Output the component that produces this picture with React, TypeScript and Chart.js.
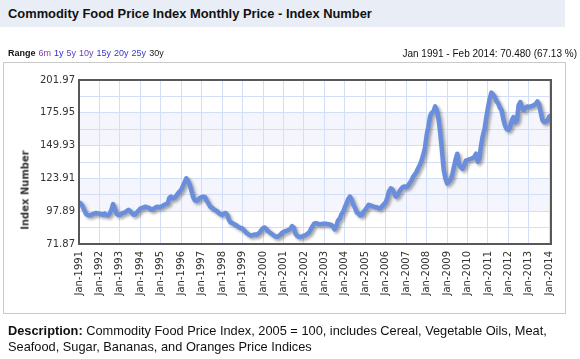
import React, { useEffect, useRef } from "react";
import { Chart, registerables } from "chart.js";

Chart.register(...registerables);

const TITLE = "Commodity Food Price Index Monthly Price - Index Number";
const RANGE_LINKS = ["6m", "1y", "5y", "10y", "15y", "20y", "25y", "30y"];
const RANGE_COLORS = ["#7a3d9c", "#2a2ad0", "#5c3cb8", "#6a3db2", "#3434cc", "#3434cc", "#3a38c8", "#222222"];
const SUMMARY = "Jan 1991 - Feb 2014: 70.480 (67.13 %)";
const Y_TITLE = "Index Number";
const DESCRIPTION_LABEL = "Description:";
const DESCRIPTION_TEXT =
  " Commodity Food Price Index, 2005 = 100, includes Cereal, Vegetable Oils, Meat, Seafood, Sugar, Bananas, and Oranges Price Indices";

const START_YEAR = 1991;
const X_TICK_YEARS = [
  1991, 1992, 1993, 1994, 1995, 1996, 1997, 1998, 1999, 2000, 2001, 2002,
  2003, 2004, 2005, 2006, 2007, 2008, 2009, 2010, 2011, 2012, 2013, 2014,
];
const Y_MAJOR = [71.87, 97.89, 123.91, 149.93, 175.95, 201.97];
const Y_GRID = [71.87, 84.88, 97.89, 110.9, 123.91, 136.92, 149.93, 162.94, 175.95, 188.96, 201.97];

// Monthly values, Jan 1991 .. Feb 2014
const FOOD_INDEX = [
  // 1991
  105, 104, 102, 99, 96, 95, 94.5, 95, 95.5, 96, 96.5, 96,
  // 1992
  96, 95.5, 95, 96, 95, 94.5, 96, 99, 103.5, 100, 96, 95,
  // 1993
  95, 96, 96.5, 97, 98, 99, 98, 96.5, 95, 95.5, 97, 98.5,
  // 1994
  100, 100.5, 101, 101.5, 101, 100.5, 99.5, 99, 100, 101, 101.5, 101,
  // 1995
  101.5, 102, 103, 103.5, 104, 108.5, 109.5, 108, 108.5, 110, 112, 113.5,
  // 1996
  115, 118, 121, 124, 122, 119, 114, 109, 106.5, 106, 107, 108.5,
  // 1997
  109, 109.5, 109, 106, 104, 101.5, 100.5, 99.5, 98.5, 98, 96.5, 95.5,
  // 1998
  95, 96, 96.5, 95, 91, 89, 88.5, 87.5, 87, 86, 85, 84.5,
  // 1999
  84, 82.5, 81, 80, 79, 78.5, 79, 79.5, 79, 80, 81, 83,
  // 2000
  84.5, 85, 83.5, 82, 81, 80, 79, 78, 77.5, 78, 79, 80.5,
  // 2001
  81.5, 82, 82.5, 83, 84, 86, 85, 80, 78.5, 77.5, 77.5, 78,
  // 2002
  78.5, 79, 80, 81, 83.5, 86, 88, 88.5, 88, 87.5, 87.5, 88,
  // 2003
  88, 88, 87.5, 87.5, 87, 86, 83.5, 86, 90.5, 92, 95.5, 97.5,
  // 2004
  101, 104, 107.5, 109.5, 107, 103, 100.5, 97, 96, 94.5, 95, 97.5,
  // 2005
  99, 101, 103, 102.5, 102, 101.5, 101, 101, 100, 100.5, 102, 103.5,
  // 2006
  105, 109, 114, 116, 115, 112, 109.5, 111, 113.5, 115.5, 117, 117.5,
  // 2007
  117, 118, 120, 122, 125, 127, 129, 132, 134.5, 138, 142.5, 148,
  // 2008
  158, 165, 173, 176, 177, 181, 178, 171, 160, 146, 131, 124,
  // 2009
  120, 121.5, 123, 126.5, 133, 139, 143.5, 135, 133, 131.5, 134, 138,
  // 2010
  138.5, 139, 139.5, 140, 141, 143.5, 137, 140, 150.5, 158, 163, 172,
  // 2011
  180, 187, 192, 190.5, 188.5, 185, 183.5, 180, 178, 171, 166, 163,
  // 2012
  162.5, 165, 170, 172.5, 168.5, 170, 182, 184.5, 180, 178, 180, 181,
  // 2013
  180.5, 181, 181.5, 182, 183, 185, 182.5, 176, 170, 168.5, 169, 170,
  // 2014
  173, 174,
];

const plotDecor = {
  id: "plotDecor",
  beforeDraw(chart: any) {
    const { ctx, chartArea: a, scales } = chart;
    const y = scales.y;
    ctx.save();
    ctx.fillStyle = "#ffffff";
    ctx.fillRect(a.left, a.top, a.width, a.height);
    ctx.fillStyle = "#f5f6fd";
    for (let i = 0; i < Y_MAJOR.length - 1; i++) {
      if (i % 2 === 1) {
        const y0 = y.getPixelForValue(Y_MAJOR[i]);
        const y1 = y.getPixelForValue(Y_MAJOR[i + 1]);
        ctx.fillRect(a.left, y1, a.width, y0 - y1);
      }
    }
    ctx.restore();
  },
  beforeDatasetDraw(chart: any) {
    const ctx = chart.ctx;
    ctx.save();
    ctx.shadowColor = "rgba(0,0,0,0.35)";
    ctx.shadowOffsetX = 2;
    ctx.shadowOffsetY = 2;
    ctx.shadowBlur = 3;
  },
  afterDatasetDraw(chart: any) {
    chart.ctx.restore();
  },
  afterDraw(chart: any) {
    const { ctx, chartArea: a } = chart;
    ctx.save();
    ctx.strokeStyle = "#585858";
    ctx.lineWidth = 2;
    ctx.strokeRect(a.left, a.top, a.width, a.height);
    ctx.restore();
  },
};

function ChartCanvas() {
  const ref = useRef<HTMLCanvasElement | null>(null);
  useEffect(() => {
    if (!ref.current) return;
    const data = FOOD_INDEX.map((v, i) => ({ x: i, y: v }));
    const chart = new Chart(ref.current, {
      type: "line",
      data: {
        datasets: [
          {
            data,
            borderColor: "#6a8edb",
            borderWidth: 4.5,
            pointRadius: 0,
            fill: false,
            tension: 0,
            borderJoinStyle: "round",
            borderCapStyle: "round",
          },
        ],
      },
      options: {
        responsive: false,
        animation: false,
        events: [],
        layout: { padding: { left: 0, top: 80, right: 29, bottom: 0 } },
        plugins: { legend: { display: false }, tooltip: { enabled: false } },
        scales: {
          x: {
            type: "linear",
            min: 0,
            max: FOOD_INDEX.length - 1,
            afterBuildTicks: (scale: any) => {
              scale.ticks = X_TICK_YEARS.map((yr) => ({ value: (yr - START_YEAR) * 12 }));
            },
            afterFit: (scale: any) => {
              scale.height = 115;
            },
            grid: { color: "#d3def8", lineWidth: 1, drawTicks: false },
            border: { display: false },
            ticks: {
              autoSkip: false,
              minRotation: 90,
              maxRotation: 90,
              padding: 7,
              color: "#333333",
              font: { family: "DejaVu Sans", size: 10 },
              callback: (v: any) => "Jan-" + (START_YEAR + Math.round(Number(v) / 12)),
            },
          },
          y: {
            type: "linear",
            min: Y_GRID[0],
            max: Y_GRID[Y_GRID.length - 1],
            afterBuildTicks: (scale: any) => {
              scale.ticks = Y_GRID.map((v) => ({ value: v }));
            },
            afterFit: (scale: any) => {
              scale.width = 79;
            },
            grid: { color: "#d3def8", lineWidth: 1, drawTicks: false },
            border: { display: false },
            ticks: {
              autoSkip: false,
              padding: 4,
              color: "#333333",
              font: { family: "DejaVu Sans", size: 10 },
              callback: (v: any, i: number) => (i % 2 === 0 ? Number(v).toFixed(2) : ""),
            },
          },
        },
      },
      plugins: [plotDecor],
    } as any);
    return () => chart.destroy();
  }, []);
  return (
    <canvas
      ref={ref}
      width={580}
      height={359}
      style={{ position: "absolute", left: 0, top: 0, width: 580, height: 359 }}
    />
  );
}

export default function App() {
  const sans = "'Liberation Sans', Arial, Helvetica, sans-serif";
  return (
    <div
      style={{
        position: "absolute",
        left: 0,
        top: 0,
        width: 580,
        height: 359,
        background: "#ffffff",
        overflow: "hidden",
        fontFamily: sans,
      }}
    >
      <div
        style={{
          position: "absolute",
          left: 0,
          top: 0,
          width: 565,
          height: 27,
          background: "#e9eef6",
        }}
      />
      <div
        style={{
          position: "absolute",
          left: 8,
          top: 6,
          fontSize: 12.9,
          fontWeight: "bold",
          color: "#111111",
          whiteSpace: "nowrap",
        }}
      >
        {TITLE}
      </div>
      <div
        style={{
          position: "absolute",
          left: 3,
          top: 62,
          width: 561,
          height: 250,
          border: "1px solid #c9c9c9",
        }}
      />
      <ChartCanvas />
      <div
        style={{
          position: "absolute",
          left: 8,
          top: 48,
          fontSize: 9,
          whiteSpace: "nowrap",
          color: "#111111",
        }}
      >
        <span style={{ fontWeight: "bold" }}>Range</span>
        {RANGE_LINKS.map((l, i) => (
          <span key={l} style={{ color: RANGE_COLORS[i], marginLeft: 3 }}>
            {l}
          </span>
        ))}
      </div>
      <div
        style={{
          position: "absolute",
          right: 3,
          top: 48,
          fontSize: 10,
          whiteSpace: "nowrap",
          color: "#111111",
        }}
      >
        {SUMMARY}
      </div>
      <div
        style={{
          position: "absolute",
          left: 25,
          top: 190,
          transform: "translate(-50%, -50%) rotate(-90deg)",
          fontFamily: "'DejaVu Sans', sans-serif",
          fontWeight: "bold",
          fontSize: 10,
          color: "#333333",
          whiteSpace: "nowrap",
        }}
      >
        {Y_TITLE}
      </div>
      <div
        style={{
          position: "absolute",
          left: 8,
          top: 323,
          width: 545,
          fontSize: 12.8,
          lineHeight: "16px",
          color: "#111111",
        }}
      >
        <span style={{ fontWeight: "bold" }}>{DESCRIPTION_LABEL}</span>
        {DESCRIPTION_TEXT}
      </div>
    </div>
  );
}
